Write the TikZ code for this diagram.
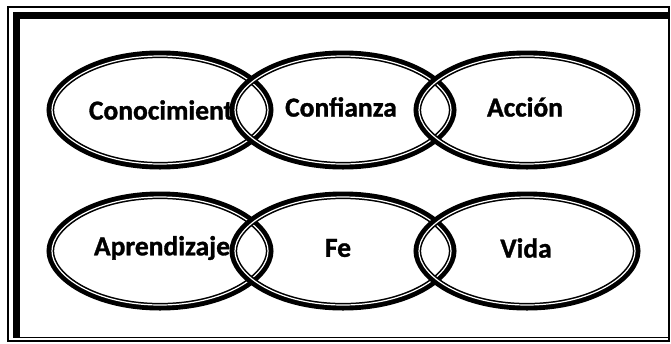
\documentclass[tikz,border=0pt]{standalone}
\usepackage{fontspec}
\setmainfont{Carlito}
\newfontfamily\lblfont{Carlito}[BoldFeatures={FakeBold=1.2}]
\tikzset{
  anchorpt/.style={inner sep=0pt, minimum size=0pt},
  ringblack/.style={draw=black, line width=7.6pt},
  ringwhite/.style={draw=white, line width=1.2pt},
  framethin/.style={draw=black, line width=1.1pt},
  framethick/.style={draw=black, line width=7pt},
  lbl/.style={font=\lblfont\fontsize{27.5}{32}\selectfont\bfseries, inner sep=0pt}
}
% egg-shaped ring: #1 node name, #2 style, #3 A, #4 B
\newcommand\eggpath[4]{%
  \draw[#2, shift={(#1.center)}] (-#3,0)
    .. controls (-#3,-0.46*#4) and (-0.60*#3,-#4) .. (0,-#4)
    .. controls (0.60*#3,-#4) and (#3,-0.46*#4) .. (#3,0)
    .. controls (#3,0.46*#4) and (0.60*#3,#4) .. (0,#4)
    .. controls (-0.60*#3,#4) and (-#3,0.46*#4) .. cycle;}
\newcommand\eggring[1]{%
  \eggpath{#1}{ringblack}{109.7}{55.7}%
  \eggpath{#1}{ringwhite}{108}{54}}
\begin{document}
\begin{tikzpicture}[x=1pt,y=-1pt]
\useasboundingbox (0,0) rectangle (671,343);
% frame
\draw[framethin] (8,7) rectangle (669,341);
\draw[framethick] (13,15.5) -- (669,15.5);
\draw[framethick] (16.5,12) -- (16.5,338);
\draw[framethin] (16,337.5) -- (669,337.5);
% centres of the rings
\node[anchorpt] (con) at (160,110) {};
\node[anchorpt] (cnf) at (343,110) {};
\node[anchorpt] (acc) at (527,110) {};
\node[anchorpt] (apr) at (160,251) {};
\node[anchorpt] (fe) at (343,251) {};
\node[anchorpt] (vid) at (527,251) {};
\eggring{con}
\eggring{cnf}
\eggring{acc}
\eggring{apr}
\eggring{fe}
\eggring{vid}
% texts
\node[lbl] (tcon) at (161,110) {Conocimient};
\node[lbl] (tcnf) at (341,107) {Confianza};
\node[lbl] (tacc) at (525,107) {Acción};
\node[lbl] (tapr) at (162,248) {Aprendizaje};
\node[lbl] (tfe) at (338,248) {Fe};
\node[lbl] (tvid) at (526,248) {Vida};
\end{tikzpicture}
\end{document}
